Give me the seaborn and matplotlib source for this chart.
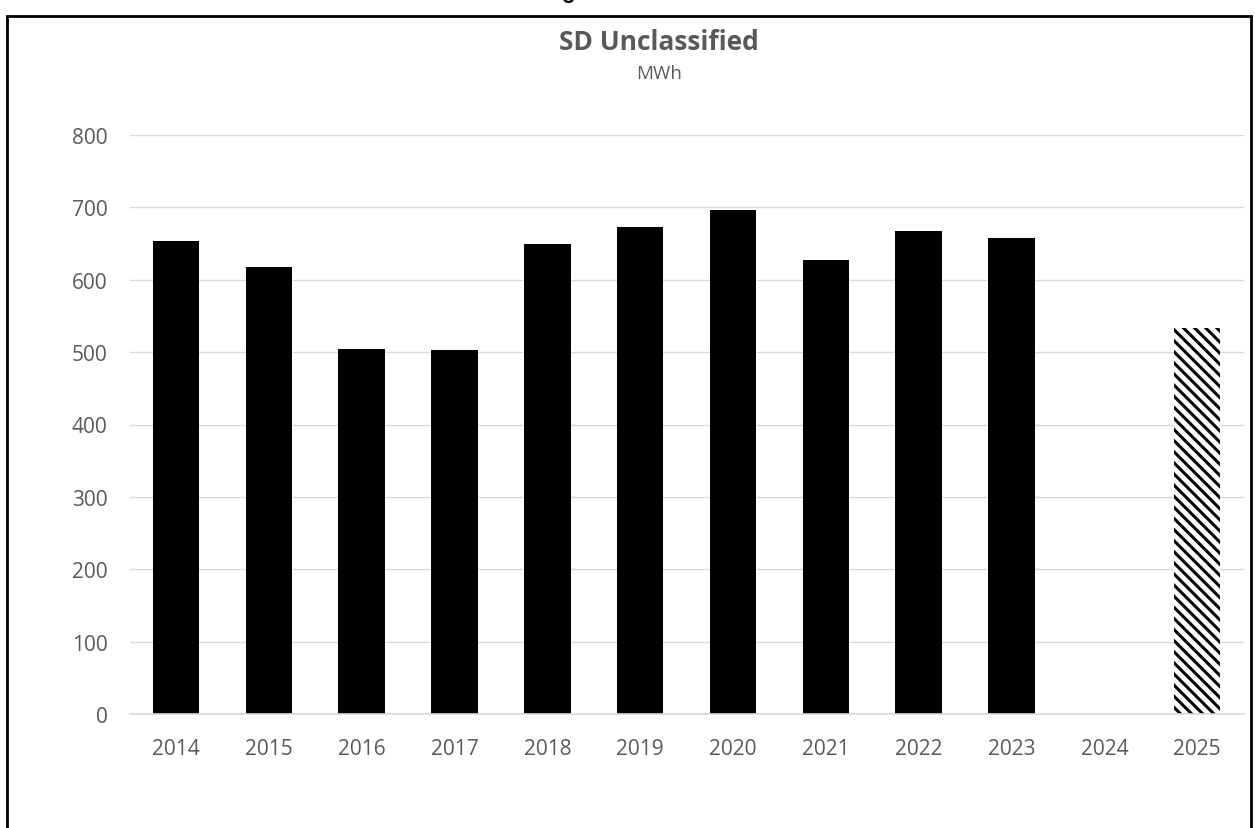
import numpy as np
import pandas as pd
import matplotlib
matplotlib.use("Agg")
import matplotlib.pyplot as plt
import matplotlib.patches as mpatches
import seaborn as sns

# data
years = ["2014", "2015", "2016", "2017", "2018", "2019",
         "2020", "2021", "2022", "2023", "2024", "2025"]
actual_years = ["2014", "2015", "2016", "2017", "2018", "2019",
                "2020", "2021", "2022", "2023"]
actual_mwh = [653, 617, 505, 503, 650, 673, 696, 627, 668, 658]
forecast_years = ["2025"]
forecast_mwh = [533]

sns.set_theme(style="white")
plt.rcParams["font.family"] = ["Open Sans", "DejaVu Sans"]
plt.rcParams["hatch.linewidth"] = 2.2

W, H = 1255, 829
fig = plt.figure(figsize=(W / 100, H / 100), dpi=100)
ax = fig.add_axes([129.6 / W, 1 - 715 / H, (1243.6 - 129.6) / W, (715 - 136) / H])

actual_df = pd.DataFrame({"year": actual_years, "mwh": actual_mwh})
forecast_df = pd.DataFrame({"year": forecast_years, "mwh": forecast_mwh})

# three backslashes -> dense diagonal stripes like the reference
back_hatch = chr(92) * 3

sns.barplot(data=actual_df, x="year", y="mwh", order=years, color="black",
            saturation=1, width=0.5, linewidth=0, ax=ax)
sns.barplot(data=forecast_df, x="year", y="mwh", order=years, color="white",
            saturation=1, width=0.5, edgecolor="black", linewidth=0,
            hatch=back_hatch, ax=ax)

grey = "#595959"
ax.set_ylim(0, 800)
ax.set_yticks(range(0, 801, 100))
ax.yaxis.grid(True, color="#d9d9d9", linewidth=1)
ax.set_axisbelow(True)
for side in ["left", "right", "top"]:
    ax.spines[side].set_visible(False)
ax.spines["bottom"].set_color("#d9d9d9")
ax.spines["bottom"].set_linewidth(1.2)
ax.tick_params(axis="both", length=0, labelsize=15, labelcolor=grey)
ax.tick_params(axis="y", pad=16)
ax.tick_params(axis="x", pad=17)
ax.set_xlabel("")
ax.set_ylabel("")

fig.text(659 / W, 1 - 43 / H, "SD Unclassified", ha="center", va="center",
         fontsize=19, fontweight="bold", color=grey)
fig.text(659 / W, 1 - 74 / H, "MWh", ha="center", va="center",
         fontsize=13.5, color=grey)

# cut-off heading above the chart frame
fig.text(568 / W, 1.0 + 2 / H, "g", ha="center", va="baseline",
         fontsize=16, fontweight="bold", color="black",
         family=["Liberation Sans", "DejaVu Sans"])

# chart frame
frame = mpatches.Rectangle((7 / W, -0.05), (1251 - 7) / W, 1.05 - 17 / H,
                           transform=fig.transFigure, fill=False,
                           edgecolor="black", linewidth=2, clip_on=False)
fig.patches.append(frame)

fig.savefig("out.png", dpi=100, facecolor="white")
